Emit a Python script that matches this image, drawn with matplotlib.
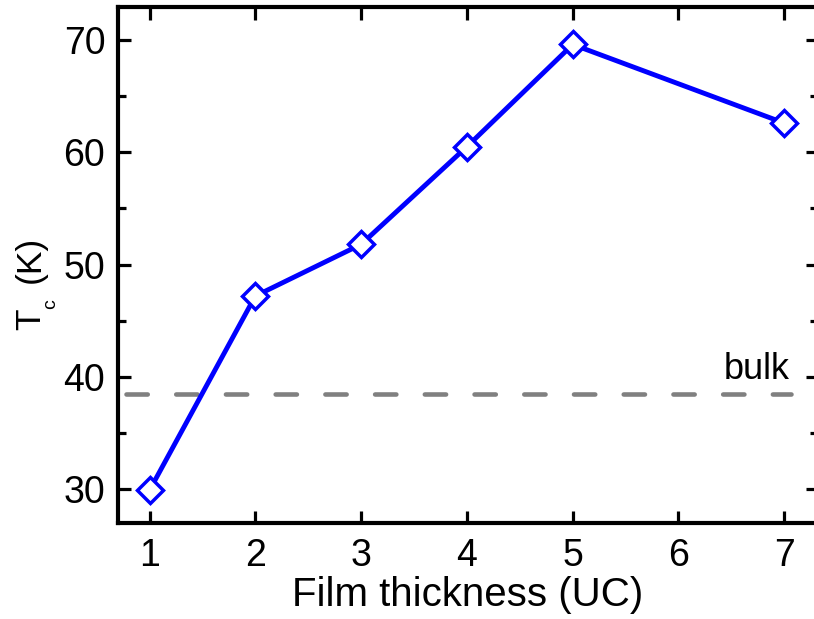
import matplotlib
matplotlib.use("Agg")
import matplotlib.pyplot as plt
from matplotlib.ticker import MultipleLocator

# Superconducting transition temperature vs. film thickness
thickness_uc = [1, 2, 3, 4, 5, 7]
tc_kelvin = [29.9, 47.2, 51.8, 60.5, 69.6, 62.6]
bulk_tc = 38.5
x_ticks = [1, 2, 3, 4, 5, 6, 7]
y_ticks = [30, 40, 50, 60, 70]

plt.rcParams["font.family"] = ["Liberation Sans", "DejaVu Sans"]
plt.rcParams["lines.scale_dashes"] = False

W, H = 814, 619
fig = plt.figure(figsize=(W / 100, H / 100), dpi=100)
left_px, right_px, top_px, bottom_px = 117.8, 817.5, 7.2, 522.5
ax = fig.add_axes([left_px / W, 1 - bottom_px / H,
                   (right_px - left_px) / W, (bottom_px - top_px) / H])

# bulk reference level
ax.axhline(bulk_tc, xmin=0.012, xmax=0.962, color="#808080", lw=3.3,
           ls=(0, (15.3, 20.5)), dash_capstyle="round", zorder=2)
ax.text(7.05, 39.85, "bulk", fontsize=26, ha="right", va="baseline")

ax.plot(thickness_uc, tc_kelvin, color="#0000ff", lw=3.5, marker="D",
        ms=12.8, mew=2.5, mfc="white", mec="#0000ff", zorder=3)

ax.set_xlim(0.7, 7.314)
ax.set_ylim(27.03, 72.92)
ax.set_xticks(x_ticks)
ax.set_yticks(y_ticks)
ax.yaxis.set_minor_locator(MultipleLocator(5))

for s in ax.spines.values():
    s.set_linewidth(3.0)
ax.spines["right"].set_visible(False)

ax.tick_params(axis="both", which="major", direction="in", length=9,
               width=2.3, labelsize=27, top=True, right=True)
ax.tick_params(axis="x", which="major", pad=11)
ax.tick_params(axis="y", which="major", pad=9)
ax.tick_params(axis="y", which="minor", direction="in", length=5.5,
               width=2.3, right=True)

ax.set_xlabel("Film thickness (UC)", fontsize=29, labelpad=1.5)

# y-axis label: T with a lowered subscript c, then the unit
def fx(px):
    return px / W

def fy(py):
    return 1 - py / H

kw = dict(rotation=90, rotation_mode="anchor", ha="left", va="baseline")
fig.text(fx(40), fy(330), "T", fontsize=25.5, **kw)
fig.text(fx(55), fy(309), "c", fontsize=14, **kw)
fig.text(fx(40), fy(282.5), "(K)", fontsize=25.5, **kw)

fig.savefig("out.png", dpi=100)
